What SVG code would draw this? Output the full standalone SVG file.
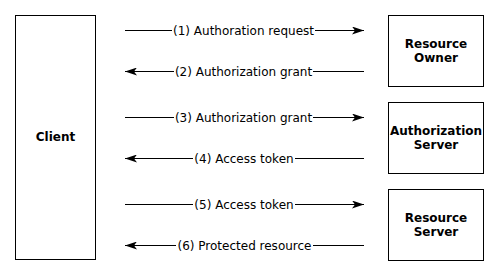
<svg xmlns="http://www.w3.org/2000/svg" width="498" height="275" viewBox="0 0 498 275">
  <style>
    .box { fill: #ffffff; stroke: #000000; stroke-width: 1; }
    .node-label { font-family: "DejaVu Sans", "Liberation Sans", sans-serif; font-size: 12px; font-weight: bold; fill: #000000; text-anchor: middle; }
    .edge { stroke: #000000; stroke-width: 1; fill: none; }
    .edge-label { font-family: "DejaVu Sans", "Liberation Sans", sans-serif; font-size: 12px; fill: #000000; text-anchor: middle; }
  </style>
  <defs>
    <marker id="arrow" markerUnits="userSpaceOnUse" viewBox="0 0 12 8" markerWidth="12" markerHeight="8" refX="12" refY="4" orient="auto">
      <path d="M0,0 L12,4 L0,8 L3,4 z" fill="#000000"/>
    </marker>
  </defs>
  <rect width="498" height="275" fill="#ffffff"/>

  <g id="client">
    <rect class="box" x="15.5" y="15.5" width="80" height="244"/>
    <text class="node-label" x="55.5" y="141">Client</text>
  </g>

  <g id="resource-owner">
    <rect class="box" x="388.5" y="15.5" width="95" height="71"/>
    <text class="node-label" x="436" y="48">Resource</text>
    <text class="node-label" x="436" y="62">Owner</text>
  </g>

  <g id="authorization-server">
    <rect class="box" x="388.5" y="102.5" width="95" height="71"/>
    <text class="node-label" x="436" y="135">Authorization</text>
    <text class="node-label" x="436" y="149">Server</text>
  </g>

  <g id="resource-server">
    <rect class="box" x="388.5" y="189.5" width="95" height="71"/>
    <text class="node-label" x="436" y="222">Resource</text>
    <text class="node-label" x="436" y="236">Server</text>
  </g>

  <g id="connectors">
    <!-- (1) -->
    <line class="edge" x1="125" y1="30.5" x2="172" y2="30.5"/>
    <line class="edge" x1="315" y1="30.5" x2="364" y2="30.5" marker-end="url(#arrow)"/>
    <text class="edge-label" x="243.5" y="35">(1) Authoration request</text>
    <!-- (2) -->
    <line class="edge" x1="174" y1="71.5" x2="125" y2="71.5" marker-end="url(#arrow)"/>
    <line class="edge" x1="313" y1="71.5" x2="364" y2="71.5"/>
    <text class="edge-label" x="243.5" y="76">(2) Authorization grant</text>
    <!-- (3) -->
    <line class="edge" x1="125" y1="117.5" x2="174" y2="117.5"/>
    <line class="edge" x1="313" y1="117.5" x2="364" y2="117.5" marker-end="url(#arrow)"/>
    <text class="edge-label" x="243.5" y="122">(3) Authorization grant</text>
    <!-- (4) -->
    <line class="edge" x1="193" y1="158.5" x2="125" y2="158.5" marker-end="url(#arrow)"/>
    <line class="edge" x1="295" y1="158.5" x2="364" y2="158.5"/>
    <text class="edge-label" x="244" y="163">(4) Access token</text>
    <!-- (5) -->
    <line class="edge" x1="125" y1="204.5" x2="193" y2="204.5"/>
    <line class="edge" x1="295" y1="204.5" x2="364" y2="204.5" marker-end="url(#arrow)"/>
    <text class="edge-label" x="244" y="209">(5) Access token</text>
    <!-- (6) -->
    <line class="edge" x1="176" y1="245.5" x2="125" y2="245.5" marker-end="url(#arrow)"/>
    <line class="edge" x1="313" y1="245.5" x2="364" y2="245.5"/>
    <text class="edge-label" x="244.5" y="250">(6) Protected resource</text>
  </g>
</svg>
